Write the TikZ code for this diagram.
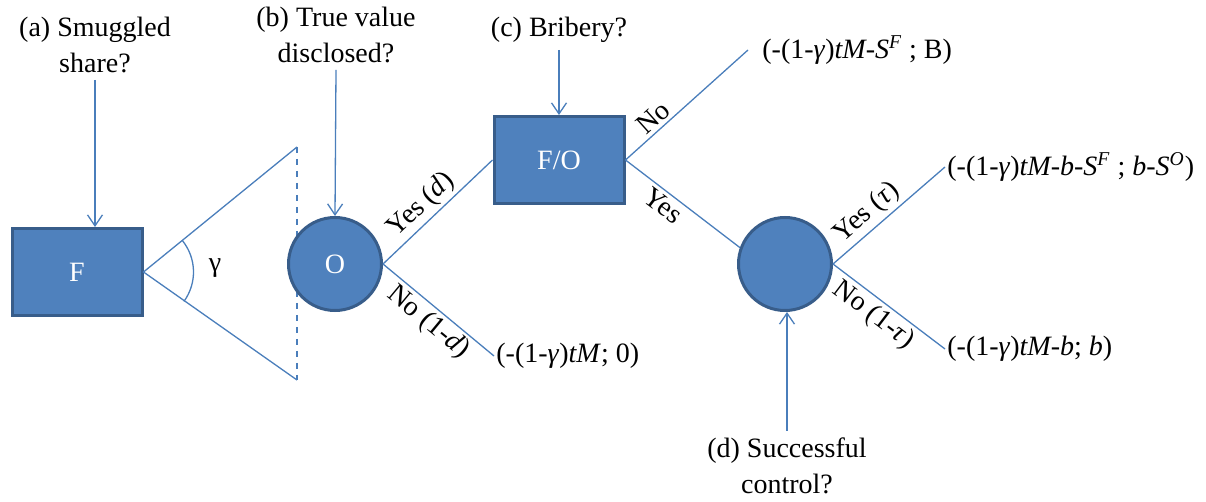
\documentclass[tikz,border=0pt]{standalone}
\usepackage{fontspec}
\setmainfont{Liberation Serif}
\usetikzlibrary{arrows.meta,calc}
\definecolor{node area}{HTML}{4F81BD}
\definecolor{node edge}{HTML}{385D8A}
\definecolor{line blue}{HTML}{4A7EBB}
\tikzset{decision/.style={rectangle, fill=node area, draw=node edge, line width=1.5pt,
		minimum width=65pt, minimum height=43.5pt, text=white},
	chance/.style={circle, fill=node area, draw=node edge, line width=1.5pt,
		minimum size=46.5pt, text=white},
	branch/.style={draw=line blue, line width=0.65pt},
	pointer/.style={branch, -{Straight Barb[length=5.5pt,width=7.5pt]}},
	question/.style={align=center},
	payoff/.style={anchor=west, inner sep=1pt},
	tag/.style={sloped, inner sep=1.5pt}}

\begin{document}
\begin{tikzpicture}[x=0.5pt, y=0.5pt, font=\fontsize{14pt}{18pt}\selectfont]
		\useasboundingbox (0,0) rectangle (1206,-502);
		% questions
		\node[question] (qa) at (95,-45) {(a) Smuggled\\share?};
		\node[question] (qb) at (336,-35) {(b) True value\\disclosed?};
		\node[question] (qc) at (559,-30) {(c) Bribery?};
		\node[question] (qd) at (787,-466) {(d) Successful\\control?};
		
		\node[decision] (f) at (77,-272) {F};
		% smuggled share
		\coordinate (top) at (297,-147);
		\coordinate (bot) at (297,-380);
		\draw[branch] (top) -- (f.east) -- (bot);
		\draw[branch, dashed] (top) -- (bot);
		\draw[branch] ($(f.east)+(39:50)$) arc[start angle=39, end angle=-36, radius=25pt];
		\node (g) at (215,-268) {γ};
		
		\node[chance] (o) at (335,-264) {O};
		\node[decision] (fo) at (559,-160) {F/O};
		\node[chance] (c2) at (785,-264) {};
		% payoffs
		\node[payoff] (p0) at (494,-356) {(-(1-\textit{γ})\textit{tM}; 0)};
		\node[payoff] (p1) at (760,-50) {(-(1-\textit{γ})\textit{tM-S}\textsuperscript{\textit{F}} ; B)};
		\node[payoff] (p2) at (945,-167) {(-(1-\textit{γ})\textit{tM-b-S}\textsuperscript{\textit{F}} ; \textit{b-S}\textsuperscript{\textit{O}})};
		\node[payoff] (p3) at (945,-349) {(-(1-\textit{γ})\textit{tM-b}; \textit{b})};
		
		\draw[pointer] (qa.south) -- (qa.south |- f.north);
		\draw[pointer] (qb.south) -- (o.north);
		\draw[pointer] (qc.south) -- (fo.north);
		\draw[pointer] (qd.north) -- (qd.north |- c2.south);
		
		\draw[branch] (o.east) -- node[tag, above, pos=.45] {Yes (\textit{d})} (fo.west);
		\draw[branch] (o.east) -- node[tag, below, pos=.5] {No (1-\textit{d})} (p0.west);
		\draw[branch] (fo.east) -- node[tag, above, pos=.3] {No} ([xshift=-6pt]p1.west);
		\draw[branch] (fo.east) -- node[tag, below, pos=.4] {Yes} (c2.160);
		\draw[branch] (c2.east) -- node[tag, above, pos=.4] {Yes (\textit{τ})} (p2.west);
		\draw[branch] (c2.east) -- node[tag, below, pos=.45] {No (1-\textit{τ})} (p3.west);
		\end{tikzpicture}
\end{document}
